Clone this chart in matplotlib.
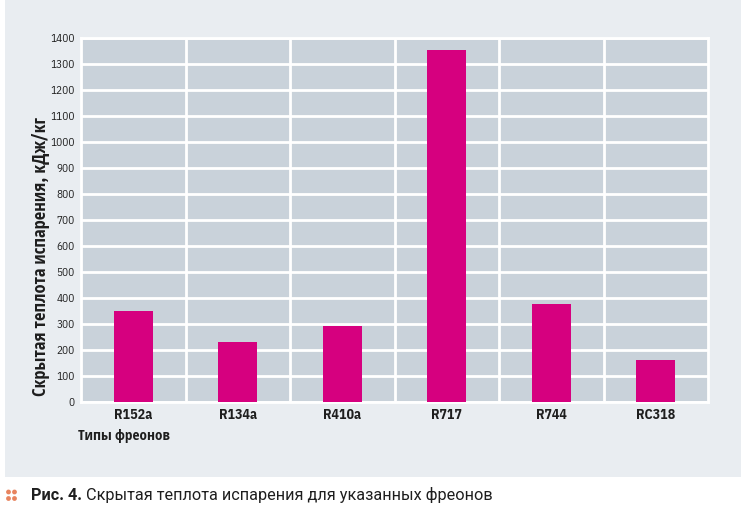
import matplotlib
matplotlib.use('Agg')
import matplotlib.pyplot as plt
from matplotlib.patches import Rectangle, Circle

# =============================================================================
# Data
# =============================================================================
freons = ['R152a', 'R134a', 'R410a', 'R717', 'R744', 'RC318']
heat = [350, 230, 290, 1352, 375, 158]
yticks = list(range(0, 1401, 100))

ylabel = 'Скрытая теплота испарения, кДж/кг'
xlabel = 'Типы фреонов'
cap_bold = 'Рис. 4.'
cap_rest = ' Скрытая теплота испарения для указанных фреонов'

narrow = ['IBM Plex Sans Condensed', 'Open Sans Condensed', 'DejaVu Sans']
pink = '#d6007f'
ink = '#1e1e1e'

W, H = 746, 515
fig = plt.figure(figsize=(W / 100, H / 100), dpi=100)
fig.patch.set_facecolor('white')

# background layer in pixel coords
bg = fig.add_axes([0, 0, 1, 1], zorder=0)
bg.set_xlim(0, W)
bg.set_ylim(H, 0)
bg.axis('off')
bg.add_patch(Rectangle((5, 0), 736, 477, color='#e9edf1', lw=0))
for cx in (8.5, 14.5):
    for cy in (492, 498.5):
        bg.add_patch(Circle((cx, cy), 2.4, color='#e8845f', lw=0))

# main plot
ax = fig.add_axes([81 / W, 1 - 401.5 / H, 627 / W, 363.5 / H], zorder=1)
ax.set_facecolor('#c9d2da')
x = range(len(freons))
ax.bar(x, heat, width=0.37, color=pink, zorder=3)

ax.set_xlim(-0.5, len(freons) - 0.5)
ax.set_ylim(0, 1400)
ax.set_yticks(yticks)
ax.set_xticks(list(x))
ax.set_xticks([i + 0.5 for i in range(len(freons) - 1)], minor=True)
ax.set_xticklabels(freons, family=narrow, fontweight='bold', fontsize=10,
                   color=ink)
ax.set_yticklabels([str(v) for v in yticks], family=narrow, fontsize=8,
                   color=ink)
ax.tick_params(axis='both', which='both', length=0)
ax.tick_params(axis='x', pad=5)
ax.tick_params(axis='y', pad=4.5)
ax.grid(axis='y', color='white', lw=2, zorder=1)
ax.grid(axis='x', which='minor', color='white', lw=2, zorder=1)
ax.grid(axis='x', which='major', visible=False)
ax.set_axisbelow(True)
for s in ax.spines.values():
    s.set_color('white')
    s.set_linewidth(2)

fig.text(41 / W, 1 - 256 / H, ylabel, rotation=90, ha='center', va='center',
         family=narrow, fontweight='bold', fontsize=13.3, color=ink)
fig.text(78 / W, 1 - 436 / H, xlabel, ha='left', va='center',
         family=narrow, fontweight='bold', fontsize=11, color=ink)

# caption
t = fig.text(31 / W, 1 - 495 / H, cap_bold, ha='left', va='center',
             family='Roboto', fontweight='bold', fontsize=11.7, color=ink)
fig.canvas.draw()
bb = t.get_window_extent()
fig.text(bb.x1 / W, 1 - 495 / H, cap_rest, ha='left', va='center',
         family='Roboto', fontsize=11.7, color=ink)

fig.savefig('out.png', dpi=100)
